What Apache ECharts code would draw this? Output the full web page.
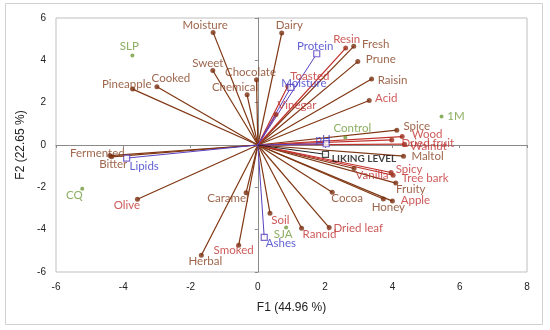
<!DOCTYPE html>
<html>
<head>
<meta charset="utf-8">
<script src="https://cdn.jsdelivr.net/npm/echarts@6/dist/echarts.min.js"></script>
<style>
html,body{margin:0;padding:0;background:#fff;}
#chart{width:550px;height:330px;}
</style>
</head>
<body>
<div id="chart"></div>
<script>
// ---- Data ----
const xTicks = [-6, -4, -2, 0, 2, 4, 6, 8];
const yTicks = [-6, -4, -2, 0, 2, 4, 6];

// sensory descriptors drawn in brown
const brownNames = ['Moisture','Dairy','Fresh','Prune','Raisin','Sweet','Chocolate','Chemical','Cooked','Pineapple','Spice','Maltol','Fruity','Honey','Cocoa','Caramel','Herbal','Fermented','Bitter'];
const brownF1 = [-1.33, 0.71, 2.85, 2.97, 3.38, -1.34, -0.04, -0.32, -3.00, -3.72, 4.13, 4.33, 4.10, 3.73, 2.21, -0.35, -1.68, -4.40, -4.35];
const brownF2 = [5.32, 5.29, 4.66, 3.94, 3.12, 3.52, 3.08, 2.37, 2.75, 2.64, 0.70, -0.53, -1.80, -2.55, -2.23, -2.25, -5.21, -0.50, -0.56];

// sensory descriptors drawn in red, near the centre-right
const redNames = ['Resin','Toasted','Vinegar','Wood','Dried fruit','Walnut','Spicy','Tree bark'];
const redF1 = [2.61, 0.89, 0.54, 4.29, 3.98, 4.36, 3.96, 4.02];
const redF2 = [4.58, 2.78, 1.44, 0.40, 0.24, 0.04, -1.30, -1.43];

// red-labelled descriptors with brown vectors
const red2Names = ['Acid','Vanilla','Apple','Dried leaf','Rancid','Soil','Smoked','Olive'];
const red2F1 = [3.31, 2.86, 4.00, 2.12, 1.30, 0.36, -0.57, -3.58];
const red2F2 = [2.10, -1.11, -2.65, -3.90, -3.93, -3.22, -4.74, -2.56];

// physico-chemical variables
const blueNames = ['Protein','Moisture','pH','Lipids','Ashes'];
const blueF1 = [1.75, 0.98, 2.03, -3.90, 0.19];
const blueF2 = [4.31, 2.72, 0.06, -0.62, -4.36];

const likingNames = ['LIKING LEVEL'];
const likingF1 = [2.01];
const likingF2 = [-0.44];

// observations
const obsNames = ['SLP','1M','CQ','SJA','Control'];
const obsF1 = [-3.73, 5.46, -5.22, 0.84, 2.60];
const obsF2 = [4.23, 1.35, -2.07, -3.90, 0.36];

// ---- Styles ----
const BROWN = '#7f3612', BROWN_TXT = '#84401f', BROWN_DOT = '#7a2f10';
const RED = '#c0302a', RED_TXT = '#c03030', RED_DOT = '#9a2a18';
const BLUE = '#5a40c0', BLUE_TXT = '#3838c8';
const GREEN = '#6f9a3a';
const BLACK = '#222222';
const LABEL_FONT = 'Lato';
const LABEL_SIZE = 11.5;

const offsets = {
  Moisture:[-8,-7], Dairy:[7.5,-7.6], Fresh:[22,-2], Prune:[23,-2], Raisin:[21,1], Sweet:[-5,-7], Chocolate:[-6,-8], Chemical:[-12,-8], Cooked:[14,-8], Pineapple:[-6,-5], Spice:[20,-3.5], Maltol:[24,0], Fruity:[15,6], Honey:[5,8.6], Cocoa:[15,6], Caramel:[-18,5.6], Herbal:[4,6], Fermented:[-12.5,-2], Bitter:[1.7,7],
  Resin:[1,-9], Acid:[17,-2], Toasted:[22,-10], Vinegar:[21,-9], Wood:[25,-2], 'Dried fruit':[36,3], Walnut:[24,2], Vanilla:[18,7], Spicy:[18,-3], 'Tree bark':[32,3], Apple:[23,-0.5], 'Dried leaf':[29,0.6], Rancid:[18,6], Soil:[10.5,7], Smoked:[-5,5.4], Olive:[-10.5,6],
  SLP:[-3,-9], '1M':[14.5,0], CQ:[-8,6], SJA:[-3,6.3], Control:[7,-9], 'LIKING LEVEL':[38.5,4.5]
};
const blueOffsets = { Protein:[-1.6,-7.3], Moisture:[13,-4.4], pH:[-3,-4], Lipids:[17.5,8.4], Ashes:[16.7,6] };

function lineData(f1, f2) {
  return f1.map((x, i) => ({ coords: [[0, 0], [x, f2[i]]] }));
}
function pointData(names, f1, f2, offs) {
  return names.map((n, i) => ({ name: n, value: [f1[i], f2[i]], label: { offset: offs[n] || [0, -8] } }));
}
function linesSeries(f1, f2, color, width) {
  return { type: 'lines', coordinateSystem: 'cartesian2d', data: lineData(f1, f2), silent: true, z: 2,
    lineStyle: { color: color, width: width || 1.2, opacity: 1 }, symbol: 'none' };
}
function pointSeries(names, f1, f2, offs, txt, extra, labelExtra) {
  return Object.assign({ type: 'scatter', data: pointData(names, f1, f2, offs), z: 5, silent: true,
    label: Object.assign({ show: true, position: 'inside', formatter: '{b}', fontFamily: LABEL_FONT, fontSize: LABEL_SIZE, color: txt }, labelExtra || {}) }, extra);
}

const chart = echarts.init(document.getElementById('chart'), null, { renderer: 'canvas' });
const axisCommon = { type: 'value', splitLine: { show: false } };
chart.setOption({
  animation: false,
  backgroundColor: '#fff',
  graphic: [{ type: 'rect', shape: { x: 5.5, y: 3.5, width: 537, height: 321 }, style: { fill: 'none', stroke: '#d0d0d0', lineWidth: 1 }, z: 0 }],
  grid: { left: 56, right: 23, top: 18, bottom: 58, show: true, borderColor: '#bfbfbf', borderWidth: 1 },
  xAxis: [
    Object.assign({}, axisCommon, { min: xTicks[0], max: xTicks[xTicks.length - 1], interval: 2, position: 'bottom',
      axisLine: { show: false, onZero: false }, axisTick: { show: false },
      axisLabel: { fontFamily: 'Liberation Sans', fontSize: 10, color: '#222', margin: 10 },
      name: 'F1 (44.96 %)', nameLocation: 'middle', nameGap: 30,
      nameTextStyle: { fontFamily: 'Liberation Sans', fontSize: 12, color: '#222' } }),
    Object.assign({}, axisCommon, { min: xTicks[0], max: xTicks[xTicks.length - 1], interval: 2, position: 'bottom',
      axisLine: { show: true, onZero: true, lineStyle: { color: '#8a8a8a', width: 1 } },
      axisTick: { show: true, length: 3, lineStyle: { color: '#8a8a8a' } }, axisLabel: { show: false } })
  ],
  yAxis: [
    Object.assign({}, axisCommon, { min: yTicks[0], max: yTicks[yTicks.length - 1], interval: 2, position: 'left',
      axisLine: { show: false, onZero: false }, axisTick: { show: false },
      axisLabel: { fontFamily: 'Liberation Sans', fontSize: 10, color: '#222', margin: 10 },
      name: 'F2 (22.65 %)', nameLocation: 'middle', nameGap: 21,
      nameTextStyle: { fontFamily: 'Liberation Sans', fontSize: 12, color: '#222' } }),
    Object.assign({}, axisCommon, { min: yTicks[0], max: yTicks[yTicks.length - 1], interval: 2, position: 'left',
      axisLine: { show: true, onZero: true, lineStyle: { color: '#8a8a8a', width: 1 } },
      axisTick: { show: true, length: 3, lineStyle: { color: '#8a8a8a' } }, axisLabel: { show: false } })
  ],
  series: [
    linesSeries(brownF1, brownF2, BROWN),
    linesSeries(red2F1, red2F2, BROWN),
    linesSeries(redF1, redF2, RED),
    linesSeries(blueF1, blueF2, BLUE, 1),
    linesSeries(likingF1, likingF2, BLACK, 1),
    pointSeries(brownNames, brownF1, brownF2, offsets, BROWN_TXT, { symbol: 'circle', symbolSize: 5, itemStyle: { color: BROWN_DOT } }),
    pointSeries(red2Names, red2F1, red2F2, offsets, RED_TXT, { symbol: 'circle', symbolSize: 5, itemStyle: { color: BROWN_DOT } }),
    pointSeries(redNames, redF1, redF2, offsets, RED_TXT, { symbol: 'circle', symbolSize: 5, itemStyle: { color: RED_DOT } }),
    pointSeries(blueNames, blueF1, blueF2, blueOffsets, BLUE_TXT, { symbol: 'rect', symbolSize: 6, itemStyle: { color: '#fff', borderColor: BLUE, borderWidth: 1.2 } }),
    pointSeries(likingNames, likingF1, likingF2, offsets, '#111', { symbol: 'rect', symbolSize: 6, itemStyle: { color: '#fff', borderColor: BLACK, borderWidth: 1.2 } }, { fontWeight: 'bold', fontSize: 10 }),
    pointSeries(obsNames, obsF1, obsF2, offsets, GREEN, { symbol: 'circle', symbolSize: 4, itemStyle: { color: GREEN } })
  ]
});
</script>
</body>
</html>
